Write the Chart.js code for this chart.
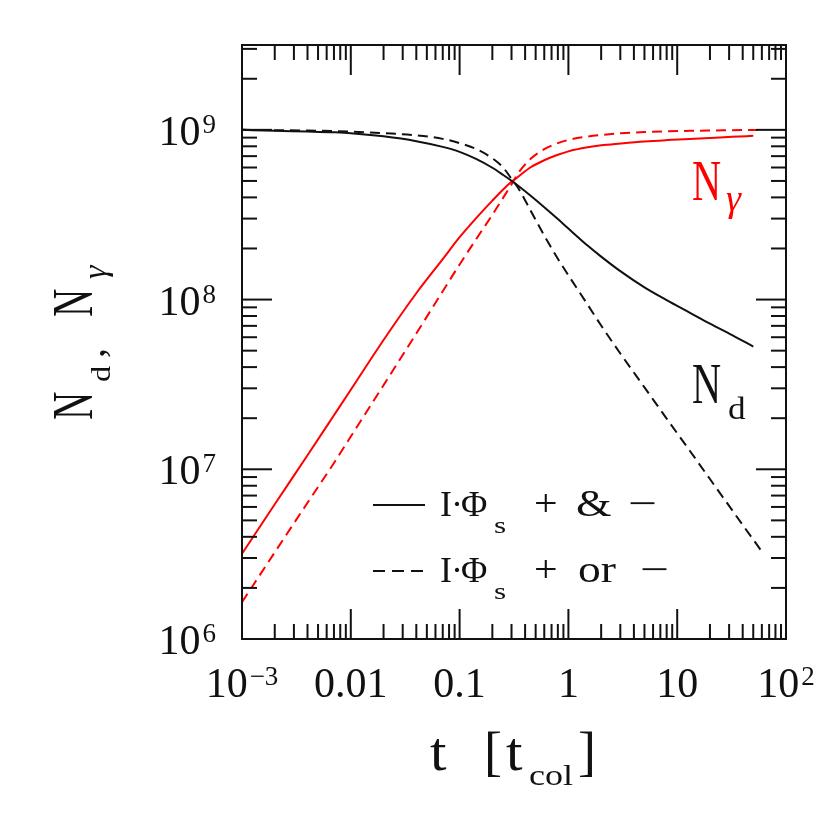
<!DOCTYPE html>
<html>
<head>
<meta charset="utf-8">
<script src="https://cdn.jsdelivr.net/npm/chart.js@4.4.1/dist/chart.umd.min.js"></script>
<style>
  html, body { margin: 0; padding: 0; background: #fff; }
</style>
</head>
<body>
<canvas id="chart" width="830" height="830"></canvas>
<script>
// curves (t in t_col, counts)
const tSolid  = [0.001, 0.002, 0.004, 0.007, 0.01, 0.02, 0.04, 0.07, 0.1, 0.14, 0.2, 0.25, 0.3, 0.35, 0.45, 0.6, 0.8, 1, 1.5, 2, 3, 5, 8, 13, 20, 32, 50];
const ndAnd   = [1.0e9, 9.87e8, 9.77e8, 9.67e8, 9.56e8, 9.16e8, 8.58e8, 7.94e8, 7.42e8, 6.76e8, 5.98e8, 5.44e8, 5.01e8, 4.65e8,
                 4.09e8, 3.50e8, 2.98e8, 2.62e8, 2.08e8, 1.79e8, 1.47e8, 1.18e8, 9.93e7, 8.39e7, 7.22e7, 6.18e7, 5.29e7];
const ngAnd   = [3.18e6, 6.22e6, 1.21e7, 2.08e7, 2.94e7, 5.78e7, 1.09e8, 1.73e8, 2.33e8, 2.99e8, 3.83e8, 4.44e8, 4.94e8, 5.33e8,
                 6.02e8, 6.62e8, 7.13e8, 7.47e8, 7.89e8, 8.11e8, 8.31e8, 8.54e8, 8.70e8, 8.84e8, 8.96e8, 9.10e8, 9.22e8];

const tDashed = [0.001, 0.002, 0.004, 0.007, 0.01, 0.02, 0.04, 0.07, 0.1, 0.14, 0.2, 0.25, 0.3, 0.35, 0.45, 0.6, 0.8, 1, 1.5, 2, 3, 5, 8, 13, 20, 32, 62];
const ndOr    = [1.0e9, 9.96e8, 9.91e8, 9.84e8, 9.77e8, 9.56e8, 9.29e8, 8.85e8, 8.35e8, 7.74e8, 6.80e8, 6.02e8, 5.15e8, 4.48e8,
                 3.34e8, 2.38e8, 1.74e8, 1.39e8, 9.35e7, 7.03e7, 4.81e7, 3.04e7, 1.99e7, 1.29e7, 8.76e6, 5.74e6, 3.18e6];
const ngOr    = [1.65e6, 3.24e6, 6.35e6, 1.09e7, 1.56e7, 3.13e7, 6.31e7, 1.12e8, 1.61e8, 2.24e8, 3.16e8, 3.96e8, 4.77e8, 5.62e8,
                 6.75e8, 7.70e8, 8.35e8, 8.72e8, 9.13e8, 9.33e8, 9.54e8, 9.71e8, 9.80e8, 9.87e8, 9.91e8, 9.95e8, 9.99e8];

const xMajor = [1e-3, 1e-2, 0.1, 1, 10, 100];
const xTickLabels = [["10", "\u22123"], ["0.01"], ["0.1"], ["1"], ["10"], ["10", "2"]];
const yMajor = [1e6, 1e7, 1e8, 1e9];
const yTickLabels = [["10", "6"], ["10", "7"], ["10", "8"], ["10", "9"]];

const FONT = "'Liberation Serif', 'Times New Roman', serif";
const INK = "#111";
const RED = "#ff0000";

function pts(ts, ns) {
    return ts.map((t, i) => ({ x: t, y: ns[i] }));
}

function logTicks(min, max) {
    const out = [];
    for (let e = Math.floor(Math.log10(min)); e <= Math.ceil(Math.log10(max)); e++) {
        for (let k = 1; k <= 9; k++) {
            const v = k * Math.pow(10, e);
            if (v >= min * 0.999999 && v <= max * 1.000001) out.push({ v: v, major: k === 1 });
        }
    }
    return out;
}

function put(ctx, text, x, y, size, opt) {
    opt = opt || {};
    ctx.save();
    ctx.font = (opt.italic ? "italic " : "") + size + "px " + FONT;
    ctx.fillStyle = opt.color || INK;
    ctx.textAlign = opt.align || "left";
    ctx.textBaseline = "alphabetic";
    ctx.translate(x, y);
    ctx.scale(opt.sx || 1, 1);
    ctx.fillText(text, 0, 0);
    ctx.restore();
}

function powLabel(ctx, parts, x, y, align) {
    const base = 42, sup = 27;
    ctx.font = base + "px " + FONT;
    const wb = ctx.measureText(parts[0]).width;
    let we = 0;
    if (parts[1]) {
        ctx.font = sup + "px " + FONT;
        we = ctx.measureText(parts[1]).width + 2;
    }
    const w = wb + we;
    const left = align === "right" ? x - w : x - w / 2;
    put(ctx, parts[0], left, y, base);
    if (parts[1]) put(ctx, parts[1], left + wb + 2, y - 12, sup);
}

function seg(ctx, x1, y1, x2, y2) {
    ctx.beginPath();
    ctx.moveTo(x1, y1);
    ctx.lineTo(x2, y2);
    ctx.stroke();
}

const framePlugin = {
    id: "frame",
    afterDraw(chart) {
        const { ctx, chartArea: a, scales } = chart;
        const x = scales.x, y = scales.y;
        ctx.save();
        ctx.strokeStyle = INK;
        ctx.lineWidth = 2;
        ctx.strokeRect(a.left, a.top, a.right - a.left, a.bottom - a.top);

        // inward ticks on all four sides
        logTicks(x.min, x.max).forEach(t => {
            const px = x.getPixelForValue(t.v);
            const len = t.major ? 30 : 15;
            seg(ctx, px, a.bottom, px, a.bottom - len);
            seg(ctx, px, a.top, px, a.top + len);
        });
        logTicks(y.min, y.max).forEach(t => {
            const py = y.getPixelForValue(t.v);
            const len = t.major ? 30 : 15;
            seg(ctx, a.left, py, a.left + len, py);
            seg(ctx, a.right, py, a.right - len, py);
        });

        // tick labels
        xMajor.forEach((v, i) => {
            powLabel(ctx, xTickLabels[i], x.getPixelForValue(v), a.bottom + 58, "center");
        });
        yMajor.forEach((v, i) => {
            powLabel(ctx, yTickLabels[i], a.left - 26, y.getPixelForValue(v) + 15, "right");
        });

        // x title: t [t_col]
        const cx = (a.left + a.right) / 2;
        const bx = cx - 84, by = a.bottom + 131;
        put(ctx, "t", bx, by, 54, { sx: 1.1 });
        put(ctx, "[", bx + 54, by, 54);
        put(ctx, "t", bx + 76, by, 54, { sx: 1.1 });
        put(ctx, "col", bx + 99, by + 15, 30, { sx: 1.2 });
        put(ctx, "]", bx + 148, by, 54);

        // y title: N_d, N_gamma (rotated)
        const cy = (a.top + a.bottom) / 2;
        ctx.save();
        ctx.translate(92, cy + 78);
        ctx.rotate(-Math.PI / 2);
        put(ctx, "N", 0, 0, 56, { sx: 0.7 });
        put(ctx, "d", 38, 18, 28, { sx: 1.15 });
        put(ctx, ",", 62, 12, 40);
        put(ctx, "N", 103, 0, 56, { sx: 0.7 });
        put(ctx, "\u03b3", 141, 14, 34, { italic: true });
        ctx.restore();

        // curve labels
        put(ctx, "N", a.right - 94, 200, 56, { sx: 0.72, color: RED });
        put(ctx, "\u03b3", a.right - 60, 211, 38, { italic: true, color: RED });
        put(ctx, "N", a.right - 94, 403, 56, { sx: 0.72 });
        put(ctx, "d", a.right - 58, 419, 32, { sx: 1.1 });

        // legend
        const lx = a.left + 131;
        const rows = [
            { y: a.bottom - 134, dash: [], word: "&", wx: 576, mx: 628 },
            { y: a.bottom - 68, dash: [12, 7], word: "or", wx: 578, mx: 640 }
        ];
        rows.forEach(r => {
            ctx.save();
            ctx.lineWidth = 2;
            ctx.setLineDash(r.dash);
            seg(ctx, lx, r.y, lx + 52, r.y);
            ctx.restore();
            const b = r.y + 11;
            put(ctx, "I", 440, b, 36);
            put(ctx, "\u00b7", 451, b, 36);
            put(ctx, "\u03a6", 461, b, 36);
            put(ctx, "s", 494, b + 17, 24, { sx: 1.3 });
            put(ctx, "+", 534, b, 38, { sx: 1.1 });
            put(ctx, r.word, r.wx, b, 38, { sx: 1.2 });
            put(ctx, "\u2212", r.mx, b, 38, { sx: 1.35 });
        });
        ctx.restore();
    }
};

new Chart(document.getElementById("chart"), {
    type: "line",
    data: {
        datasets: [
            { label: "N_d, I\u00b7\u03a6s + & \u2212", data: pts(tSolid, ndAnd), borderColor: INK, borderWidth: 2 },
            { label: "N_gamma, I\u00b7\u03a6s + & \u2212", data: pts(tSolid, ngAnd), borderColor: RED, borderWidth: 2 },
            { label: "N_d, I\u00b7\u03a6s + or \u2212", data: pts(tDashed, ndOr), borderColor: INK, borderWidth: 2, borderDash: [10, 6] },
            { label: "N_gamma, I\u00b7\u03a6s + or \u2212", data: pts(tDashed, ngOr), borderColor: RED, borderWidth: 2, borderDash: [10, 6] }
        ]
    },
    options: {
        responsive: false,
        animation: false,
        devicePixelRatio: 1,
        layout: { padding: { left: 242, top: 45, right: 44, bottom: 191 } },
        elements: {
            point: { radius: 0 },
            line: { cubicInterpolationMode: "monotone", fill: false }
        },
        plugins: {
            legend: { display: false },
            tooltip: { enabled: false }
        },
        scales: {
            x: { type: "logarithmic", min: 1e-3, max: 100, display: false },
            y: { type: "logarithmic", min: 1e6, max: Math.pow(10, 9.5), display: false }
        }
    },
    plugins: [framePlugin]
});
</script>
</body>
</html>
